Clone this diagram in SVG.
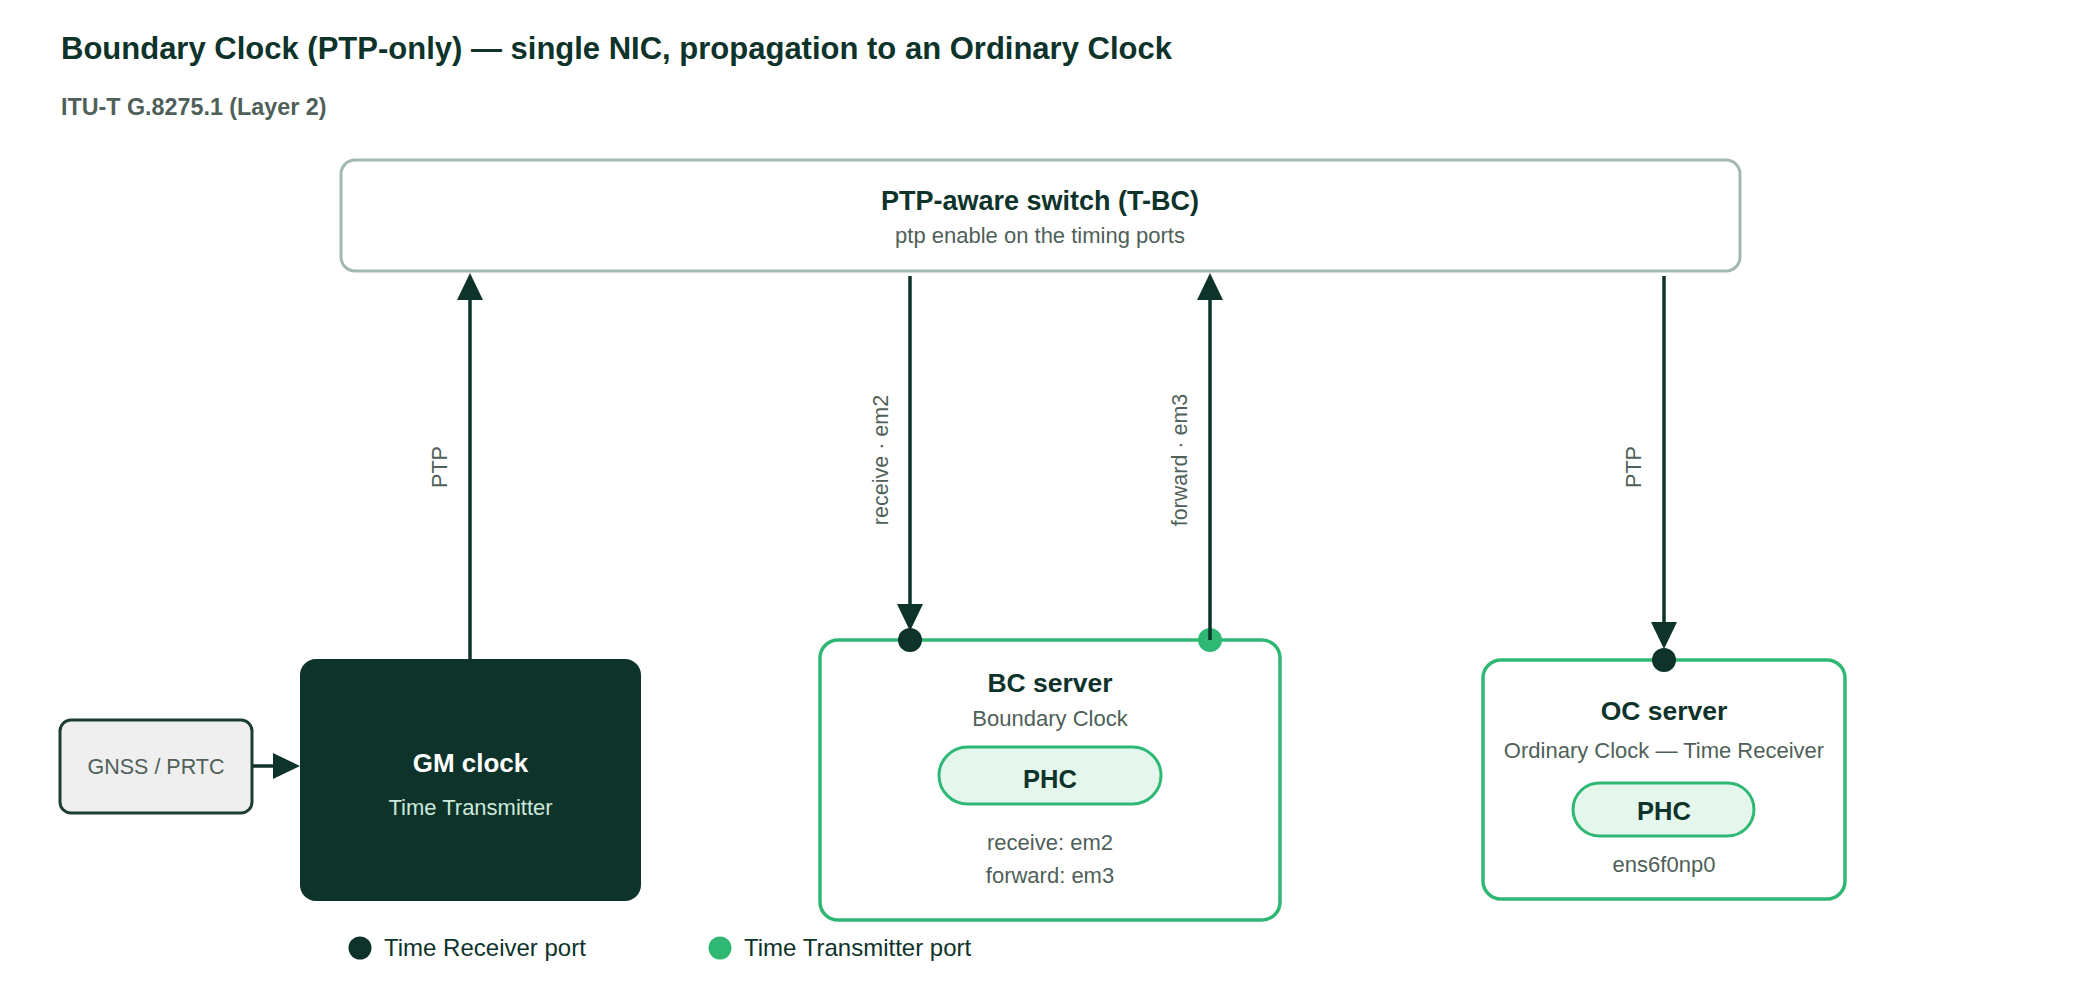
<svg xmlns="http://www.w3.org/2000/svg" width="2080" height="1000" viewBox="0 0 2080 1000">
<defs>
<style>
text{font-family:"Liberation Sans",Arial,sans-serif;}
.title{font-size:31px;font-weight:700;fill:#0d332b;}
.sub{font-size:23.3px;font-weight:700;fill:#4f5f59;}
.h{font-size:26.5px;font-weight:700;fill:#0d332b;text-anchor:middle;}
.b{font-size:22px;fill:#4f5f59;text-anchor:middle;}
.phc{font-size:25.5px;font-weight:700;fill:#0d332b;text-anchor:middle;}
.lbl{font-size:21.5px;fill:#4f5f59;text-anchor:middle;}
.leg{font-size:24px;fill:#0d332b;}
.srv{fill:#ffffff;stroke:#2fb874;stroke-width:3.5;}
.pill{fill:#e5f6ed;stroke:#2fb874;stroke-width:3;}
.conn{stroke:#0d332b;stroke-width:3.5;fill:none;marker-end:url(#ah);}
</style>
<marker id="ah" viewBox="0 0 27 26" markerUnits="userSpaceOnUse" markerWidth="27" markerHeight="26" refX="0" refY="13" orient="auto">
<path d="M0,0 L27,13 L0,26 Z" fill="#0d332b"/>
</marker>
</defs>
<rect width="2080" height="1000" fill="#ffffff"/>

<text class="title" x="61" y="59">Boundary Clock (PTP-only) — single NIC, propagation to an Ordinary Clock</text>
<text class="sub" x="61" y="115">ITU-T G.8275.1 (Layer 2)</text>

<g id="switch">
<rect x="341" y="160" width="1399" height="111" rx="14" fill="#ffffff" stroke="#a3b8b0" stroke-width="3"/>
<text class="h" x="1040" y="210" style="font-size:27px">PTP-aware switch (T-BC)</text>
<text class="b" x="1040" y="243">ptp enable on the timing ports</text>
</g>

<g id="gnss">
<rect x="60" y="720" width="192" height="93" rx="11" fill="#efefef" stroke="#1c3d33" stroke-width="3"/>
<text class="b" x="156" y="774" style="font-size:21.5px">GNSS / PRTC</text>
</g>

<g id="gm">
<rect x="300" y="659" width="341" height="242" rx="16" fill="#0d332b"/>
<text class="h" x="470.5" y="772" style="fill:#ffffff;font-size:26px">GM clock</text>
<text class="b" x="470.5" y="815" style="fill:#cde8da">Time Transmitter</text>
</g>

<g id="bc">
<rect class="srv" x="820" y="640" width="460" height="280" rx="18"/>
<text class="h" x="1050" y="692">BC server</text>
<text class="b" x="1050" y="726">Boundary Clock</text>
<rect class="pill" x="939" y="747" width="222" height="57" rx="28.5"/>
<text class="phc" x="1050" y="788">PHC</text>
<text class="b" x="1050" y="850">receive: em2</text>
<text class="b" x="1050" y="883">forward: em3</text>
<circle cx="910" cy="640" r="12" fill="#0d332b"/>
<circle cx="1210" cy="640" r="12" fill="#2fb874"/>
</g>

<g id="oc">
<rect class="srv" x="1483" y="660" width="362" height="239" rx="18"/>
<text class="h" x="1664" y="720">OC server</text>
<text class="b" x="1664" y="758">Ordinary Clock — Time Receiver</text>
<rect class="pill" x="1573" y="783" width="181" height="53" rx="26.5"/>
<text class="phc" x="1664" y="820">PHC</text>
<text class="b" x="1664" y="872">ens6f0np0</text>
<circle cx="1664" cy="660" r="12" fill="#0d332b"/>
</g>

<g id="connectors">
<path class="conn" d="M252,766 L273,766"/>
<path class="conn" d="M470,659 L470,300"/>
<path class="conn" d="M910,276 L910,604"/>
<path class="conn" d="M1210,640 L1210,300"/>
<path class="conn" d="M1664,276 L1664,622"/>
<text class="lbl" transform="translate(447,467) rotate(-90)">PTP</text>
<text class="lbl" transform="translate(888,460) rotate(-90)">receive · em2</text>
<text class="lbl" transform="translate(1187,460) rotate(-90)">forward · em3</text>
<text class="lbl" transform="translate(1641,467) rotate(-90)">PTP</text>
</g>

<g id="legend">
<circle cx="360" cy="948" r="11.5" fill="#0d332b"/>
<text class="leg" x="384" y="956">Time Receiver port</text>
<circle cx="720" cy="948" r="11.5" fill="#2fb874"/>
<text class="leg" x="744" y="956">Time Transmitter port</text>
</g>
</svg>
